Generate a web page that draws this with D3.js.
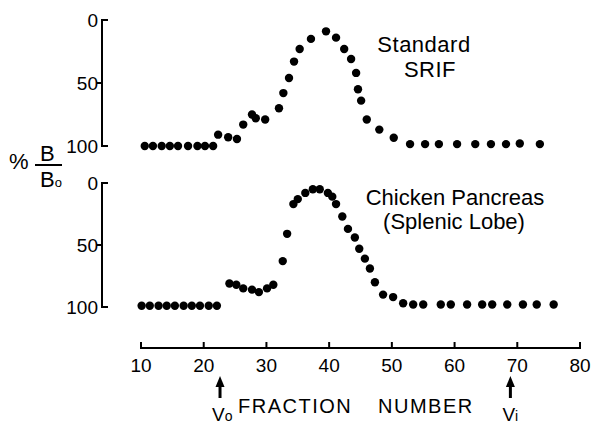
<!DOCTYPE html>
<html lang="en">
<head>
    <meta charset="UTF-8">
    <title>SRIF elution profiles</title>
    <style>
        body { margin: 0; background: #fff; }
        text { font-family: "Liberation Sans", sans-serif; fill: #000; }
        .panel-label { font-size: 22px; letter-spacing: 0.5px; text-anchor: middle; }
        .axis-title { font-size: 20px; letter-spacing: 1.5px; }
    </style>
</head>
<body>

    <svg width="594" height="424"></svg>

    <script src="https://d3js.org/d3.v7.min.js"></script>

    <script>

        // Standard SRIF (upper panel): fraction number, % B/Bo
        const srifFraction = [10.6, 11.9, 13.3, 14.6, 15.9, 17.5, 19.0, 20.2, 21.5,
            22.3, 23.9, 25.3, 26.3, 27.7, 28.3, 29.8, 32.0, 32.7, 33.6, 34.4, 35.3,
            37.1, 39.5, 41.1, 42.4, 43.5, 44.3, 44.6, 45.1, 46.0, 48.0, 50.3, 52.9,
            55.3, 57.5, 60.4, 63.3, 65.8, 68.2, 70.4, 73.6];
        const srifValue = [100, 100, 100, 100, 100, 100, 100, 100, 100,
            91, 93, 94.5, 83, 75, 78, 79, 70, 58, 46, 33, 23,
            15, 9, 14, 23, 31, 42, 55, 64, 79, 87, 93.5, 98.5,
            98.5, 98.5, 98.5, 98.5, 98.5, 98.5, 98, 98.5];

        // Chicken pancreas, splenic lobe (lower panel)
        const chickenFraction = [10.1, 11.4, 12.8, 14.1, 15.4, 16.8, 18.1, 19.4, 20.8, 22.1,
            24.1, 25.2, 26.3, 27.7, 28.8, 30.1, 31.1, 32.6, 33.3, 34.3, 35.0,
            36.2, 37.4, 38.5, 39.8, 40.5, 41.1, 42.1, 43.0, 44.1, 44.8, 45.7,
            46.5, 47.3, 48.6, 50.2, 51.8, 53.4, 55.0, 57.8, 59.4, 62.0, 64.4,
            66.0, 68.4, 70.9, 73.1, 75.8];
        const chickenValue = [99, 99, 99, 99, 99, 99, 99, 99, 99, 99,
            81, 82, 85, 86, 88, 85, 82, 63, 41, 17, 13,
            8, 5, 5, 8, 11, 17, 27, 37, 44, 53, 61,
            69, 80, 90, 92, 97, 98, 98, 98, 98, 98, 98,
            98, 98, 98, 98, 98];

        const xTicks = [10, 20, 30, 40, 50, 60, 70, 80];
        const yTicks = [0, 50, 100];

        // void volume and inner volume markers
        const markers = [
            { fraction: 22.6, label: 'V', sub: 'o' },
            { fraction: 68.9, label: 'V', sub: 'i' }
        ];

        const r = 4.2;
        const lineW = 2;

        const svg = d3.select('svg');

        const xScale = d3.scaleLinear().domain([10, 80]).range([141, 580]);
        const yTop = d3.scaleLinear().domain([0, 100]).range([20, 146]);
        const yBottom = d3.scaleLinear().domain([0, 100]).range([183, 307]);

        const axisY = 348;

        // axis lines drawn as plain paths from the scales
        const ink = svg.append('g')
            .attr('fill', 'none')
            .attr('stroke', 'black')
            .attr('stroke-width', lineW);

        // x-axis baseline with upward ticks
        ink.append('path')
            .attr('d', d3.line()(
                [[xScale(10), axisY - 6], [xScale(10), axisY], [xScale(80), axisY], [xScale(80), axisY - 6]]));
        ink.selectAll('line.xt')
            .data(xTicks.slice(1, -1))
            .join('line')
            .attr('class', 'xt')
            .attr('x1', function (d) { return xScale(d); })
            .attr('x2', function (d) { return xScale(d); })
            .attr('y1', axisY)
            .attr('y2', axisY - 6);

        svg.append('g')
            .selectAll('text')
            .data(xTicks)
            .join('text')
            .attr('x', function (d) { return xScale(d); })
            .attr('y', axisY + 24)
            .attr('text-anchor', 'middle')
            .attr('font-size', 19)
            .text(function (d) { return d; });

        // y-axis for each panel; end ticks turn right, middle tick to the left
        function drawYAxis(scale) {
            const x0 = 102;
            ink.append('path')
                .attr('d', d3.line()(
                    [[x0 + 6, scale(0)], [x0, scale(0)], [x0, scale(100)], [x0 + 6, scale(100)]]));
            ink.append('line')
                .attr('x1', x0 - 5).attr('x2', x0)
                .attr('y1', scale(50)).attr('y2', scale(50));
            svg.append('g')
                .selectAll('text')
                .data(yTicks)
                .join('text')
                .attr('x', x0 - 4)
                .attr('y', function (d) { return scale(d); })
                .attr('dy', '0.35em')
                .attr('text-anchor', 'end')
                .attr('font-size', 19)
                .text(function (d) { return d; });
        }
        drawYAxis(yTop);
        drawYAxis(yBottom);

        function drawDots(xs, ys, scale) {
            svg.append('g')
                .selectAll('circle')
                .data(xs)
                .join('circle')
                .attr('cx', function (d) { return xScale(d); })
                .attr('cy', function (d, i) { return scale(ys[i]); })
                .attr('r', r)
                .attr('fill', '#000');
        }
        drawDots(srifFraction, srifValue, yTop);
        drawDots(chickenFraction, chickenValue, yBottom);

        // panel labels
        const lt = svg.append('text').attr('class', 'panel-label');
        lt.append('tspan').attr('x', 424).attr('y', 52).text('Standard');
        lt.append('tspan').attr('x', 430).attr('y', 77).text('SRIF');

        const lb = svg.append('text').attr('class', 'panel-label').style('letter-spacing', '0px');
        lb.append('tspan').attr('x', 455).attr('y', 205).text('Chicken Pancreas');
        lb.append('tspan').attr('x', 454).attr('y', 229).text('(Splenic Lobe)');

        // y-axis title: % B / Bo
        svg.append('text').attr('x', 9).attr('y', 169).attr('font-size', 22).text('%');
        svg.append('text').attr('x', 40).attr('y', 161).attr('font-size', 22).text('B');
        ink.append('line')
            .attr('x1', 35).attr('x2', 62).attr('y1', 165).attr('y2', 165);
        const bo = svg.append('text').attr('x', 40).attr('y', 187).attr('font-size', 22);
        bo.append('tspan').text('B');
        bo.append('tspan').attr('font-size', 13).text('o');

        // x-axis title
        svg.append('text').attr('class', 'axis-title').attr('x', 238).attr('y', 413).text('FRACTION');
        svg.append('text').attr('class', 'axis-title').attr('x', 378).attr('y', 413).text('NUMBER');

        // Vo / Vi arrows
        markers.forEach(function (m) {
            const x = xScale(m.fraction);
            svg.append('line')
                .attr('x1', x).attr('x2', x).attr('y1', 384).attr('y2', 398)
                .attr('stroke', '#000').attr('stroke-width', 3);
            svg.append('path')
                .attr('d', 'M' + (x - 4.5) + ',387L' + x + ',376L' + (x + 4.5) + ',387Z')
                .attr('fill', '#000');
            const t = svg.append('text').attr('x', x - 8).attr('y', 421).attr('font-size', 19);
            t.append('tspan').text(m.label);
            t.append('tspan').attr('font-size', 14).text(m.sub);
        });

    </script>

</body>
</html>
